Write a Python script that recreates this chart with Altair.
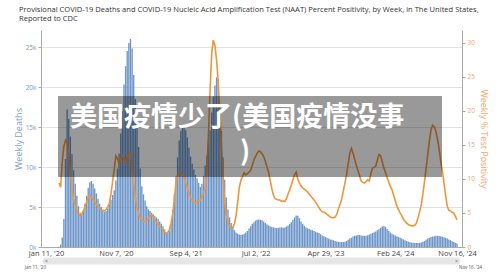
import altair as alt
import pandas as pd

title_lines = [
    "Provisional COVID-19 Deaths and COVID-19 Nucleic Acid Amplification Test (NAAT) Percent Positivity, by Week, in The United States,",
    "Reported to CDC",
]
overlay_line1 = "美国疫情少了(美国疫情没事"
overlay_line2 = ")"

weeks = pd.date_range("2020-01-11", periods=254, freq="7D")

deaths = [
    0, 0, 0, 0, 0, 0, 0, 0, 20, 300,
    1200, 3500, 11000, 17200, 16000, 13800, 11600, 9600, 7900, 6400,
    5100, 4300, 4100, 4500, 5400, 6400, 7400, 8100, 8250, 7900,
    7300, 6700, 6000, 5400, 5000, 4600, 4400, 4500, 4800, 5300,
    5900, 6500, 7100, 8300, 9800, 11700, 14200, 17000, 20300, 22600,
    24500, 25500, 26000, 24800, 21500, 18500, 15500, 12500, 9800, 7600,
    6600, 5800, 5100, 4700, 4500, 4300, 4100, 3900, 3700, 3500,
    3200, 2900, 2600, 2200, 1800, 1750, 2000, 2900, 4600, 6600,
    8800, 11200, 13300, 14500, 15000, 15000, 14600, 13700, 12400, 11300,
    10400, 9700, 9000, 8600, 8000, 7500, 7900, 8900, 10200, 11400,
    13000, 14600, 16800, 18800, 20200, 21200, 21000, 17800, 14500, 11200,
    8400, 6200, 4700, 3700, 3000, 2500, 2100, 1800, 1650, 1550,
    1500, 1550, 1650, 1800, 2000, 2300, 2600, 2900, 3100, 3300,
    3400, 3450, 3400, 3350, 3200, 3000, 2850, 2700, 2600, 2500,
    2450, 2400, 2350, 2400, 2450, 2450, 2400, 2450, 2550, 2700,
    2900, 3100, 3400, 3700, 3950, 3900, 3600, 3200, 2900, 2650,
    2450, 2350, 2250, 2150, 2100, 2000, 1900, 1800, 1750, 1600,
    1450, 1350, 1250, 1150, 1050, 950, 900, 850, 750, 700,
    650, 620, 600, 620, 650, 750, 900, 1050, 1150, 1300,
    1400, 1450, 1500, 1500, 1450, 1400, 1400, 1400, 1450, 1550,
    1650, 1750, 1850, 1950, 2100, 2250, 2400, 2550, 2650, 2500,
    2250, 2000, 1800, 1650, 1550, 1450, 1350, 1250, 1150, 1050,
    950, 850, 750, 650, 600, 550, 520, 500, 500, 500,
    520, 560, 650, 750, 900, 1050, 1150, 1250, 1300, 1350,
    1400, 1400, 1380, 1330, 1280, 1230, 1150, 1050, 950, 850,
    720, 620, 520, 450,
]

positivity = [
    None, None, None, None, None, None, None, None, 9.4, 8.8,
    12.5, 14.8, 15.7, 15.3, 13.5, 11.0, 8.6, 7.0, 6.0, 5.3,
    4.8, 4.6, 4.8, 5.3, 5.9, 6.6, 7.3, 7.6, 7.4, 7.0,
    6.6, 6.3, 6.0, 5.7, 5.4, 5.4, 5.3, 5.5, 5.9, 6.4,
    7.8, 9.6, 11.4, 13.4, 13.0, 12.3, 12.9, 13.4, 13.0, 12.4,
    13.3, 13.7, 13.8, 11.8, 9.4, 7.4, 5.9, 4.9, 4.3, 4.0,
    3.8, 3.7, 3.8, 4.2, 4.6, 4.7, 4.5, 4.0, 3.6, 3.3,
    3.0, 2.8, 2.5, 2.2, 2.0, 2.1, 2.6, 3.5, 4.9, 7.0,
    9.4, 10.6, 11.0, 10.9, 10.6, 10.2, 9.5, 8.7, 7.9, 7.2,
    6.8, 6.6, 6.5, 6.6, 6.8, 6.9, 7.3, 8.0, 8.8, 11.0,
    16.5, 23.0, 28.5, 30.4, 29.6, 27.5, 24.3, 19.8, 15.0, 10.4,
    6.6, 4.6, 3.6, 3.0, 2.8, 2.9, 3.4, 4.6, 6.6, 8.8,
    9.8, 10.4, 10.9, 10.6, 10.8, 11.0, 11.3, 12.0, 12.8, 13.3,
    13.8, 14.1, 14.0, 13.7, 13.3, 12.6, 11.8, 11.0, 9.8, 8.6,
    7.6, 7.1, 7.0, 6.9, 6.9, 6.7, 6.8, 6.7, 7.1, 7.8,
    8.4, 9.1, 9.9, 10.6, 11.0, 10.0, 9.4, 9.0, 8.7, 8.5,
    8.3, 8.1, 7.8, 7.5, 7.2, 6.9, 6.6, 6.2, 5.8, 5.4,
    5.2, 5.1, 5.0, 4.8, 4.6, 4.4, 4.3, 4.3, 4.4, 4.8,
    5.6, 6.3, 7.0, 8.2, 9.4, 10.6, 12.2, 13.8, 14.5, 13.8,
    12.9, 12.0, 11.3, 10.5, 9.7, 9.5, 9.4, 9.6, 9.9, 9.7,
    10.8, 11.6, 11.7, 11.9, 12.8, 13.6, 13.4, 12.5, 11.6, 10.9,
    10.2, 9.5, 8.9, 8.4, 7.6, 6.8, 6.0, 5.5, 5.0, 4.6,
    4.1, 3.8, 3.5, 3.3, 3.2, 3.1, 3.1, 3.2, 3.5, 4.3,
    5.2, 6.2, 7.8, 9.6, 11.6, 13.6, 15.6, 17.2, 17.9, 17.7,
    17.0, 15.8, 14.4, 12.6, 11.2, 9.4, 7.6, 6.0, 5.4, 5.3,
    5.1, 5.0, 4.5, 4.0,
]

tick_dates = ["2020-01-11", "2020-11-07", "2021-09-04", "2022-07-02",
              "2023-04-29", "2024-02-24", "2024-11-16"]
death_ticks = [0, 5000, 10000, 15000, 20000, 25000]
pos_ticks = [0, 5, 10, 15, 20, 25, 30]

df = pd.DataFrame({"week": weeks.strftime("%Y-%m-%d"), "deaths": deaths, "pos": positivity})
nav = pd.DataFrame({"start": [tick_dates[0]], "end": [tick_dates[-1]]})


def dt(s):
    y, m, d = (int(p) for p in s.split("-"))
    return alt.DateTime(year=y, month=m, date=d, utc=True)


xscale = alt.Scale(type="utc", domain=[dt(tick_dates[0]), dt(tick_dates[-1])])
xaxis = alt.Axis(
    values=[dt(s) for s in tick_dates], format="%b %-d, '%y", title=None,
    labelFontSize=7.5, labelColor="#444", ticks=False, domainColor="#aaa",
    labelPadding=2, grid=False, labelOverlap=False, labelFlush=False,
)

base = alt.Chart(df)

bars = base.mark_bar(color="#5f8cc4", size=1.35, opacity=0.92).encode(
    x=alt.X("week:T", scale=xscale, axis=xaxis),
    y=alt.Y("deaths:Q", scale=alt.Scale(domain=[0, 27125], nice=False),
            axis=alt.Axis(values=death_ticks, format="~s", title="Weekly Deaths",
                          titleColor="#7ea0cc", titleFontSize=9, titleFontWeight="normal",
                          labelColor="#7a98c0", labelFontSize=6.5, tickSize=3,
                          tickColor="#aaa", domainColor="#aaa", gridColor="#e2e2e2",
                          titlePadding=2, labelPadding=2)),
)

line = base.mark_line(color="#f0953a", strokeWidth=1.6).encode(
    x=alt.X("week:T", scale=xscale),
    y=alt.Y("pos:Q", scale=alt.Scale(domain=[0, 31.9], nice=False),
            axis=alt.Axis(orient="right", values=pos_ticks, title="Weekly % Test Positivity",
                          titleColor="#f2a66a", titleFontSize=9, titleFontWeight="normal",
                          labelColor="#f2a66a", labelFontSize=6.5, tickSize=3,
                          tickColor="#aaa", domainColor="#aaa", grid=False,
                          titlePadding=4, labelPadding=2)),
)

navbar = alt.Chart(nav).mark_rule(color="#e6e6e6", strokeWidth=7, strokeCap="round").encode(
    x=alt.X("start:T", scale=xscale), x2="end:T", y=alt.value(231))
nav_hl = alt.Chart(nav).mark_point(shape="triangle-left", size=10, color="#888", filled=True).encode(
    x=alt.X("start:T", scale=xscale), y=alt.value(231))
nav_hr = alt.Chart(nav).mark_point(shape="triangle-right", size=10, color="#888", filled=True).encode(
    x=alt.X("end:T", scale=xscale), y=alt.value(231))
nav_l = alt.Chart(nav).mark_text(fontSize=4.5, color="#555", align="right", baseline="middle").encode(
    x=alt.X("start:T", scale=xscale), y=alt.value(238), text=alt.value("Jan 11, '20"))
nav_r = alt.Chart(nav).mark_text(fontSize=4.5, color="#555", align="left", baseline="middle", dx=2).encode(
    x=alt.X("end:T", scale=xscale), y=alt.value(238), text=alt.value("Nov 16, '24"))

t1 = alt.Chart(nav).mark_text(fontSize=7.55, color="#333", align="left", baseline="middle",
                              font="Open Sans").encode(
    x=alt.value(-22), y=alt.value(-20), text=alt.value(title_lines[0]))
t2 = alt.Chart(nav).mark_text(fontSize=7.55, color="#333", align="left", baseline="middle",
                              font="Open Sans").encode(
    x=alt.value(-22), y=alt.value(-11), text=alt.value(title_lines[1]))

box = alt.Chart(nav).mark_rect(color="black", opacity=0.4).encode(
    x=alt.value(17), x2=alt.value(401), y=alt.value(66), y2=alt.value(147))
o1 = alt.Chart(nav).mark_text(fontSize=27, fontWeight="bold", color="white", align="left",
                              baseline="middle", font="Noto Sans CJK SC").encode(
    x=alt.value(29), y=alt.value(88), text=alt.value(overlay_line1))
o2 = alt.Chart(nav).mark_text(fontSize=27, fontWeight="bold", color="white", align="center",
                              baseline="middle", font="Noto Sans CJK SC").encode(
    x=alt.value(204), y=alt.value(123), text=alt.value(overlay_line2))

chart = alt.layer(
    bars, line, navbar, nav_hl, nav_hr, nav_l, nav_r, t1, t2, box, o1, o2
).resolve_scale(y="independent").properties(
    width=421, height=217,
    autosize=alt.AutoSizeParams(type="none"),
    padding={"left": 41, "top": 30, "right": 38, "bottom": 26},
).configure(font="Open Sans").configure_view(stroke=None)

chart.save("out.html", embed_options={"renderer": "svg", "actions": False})
